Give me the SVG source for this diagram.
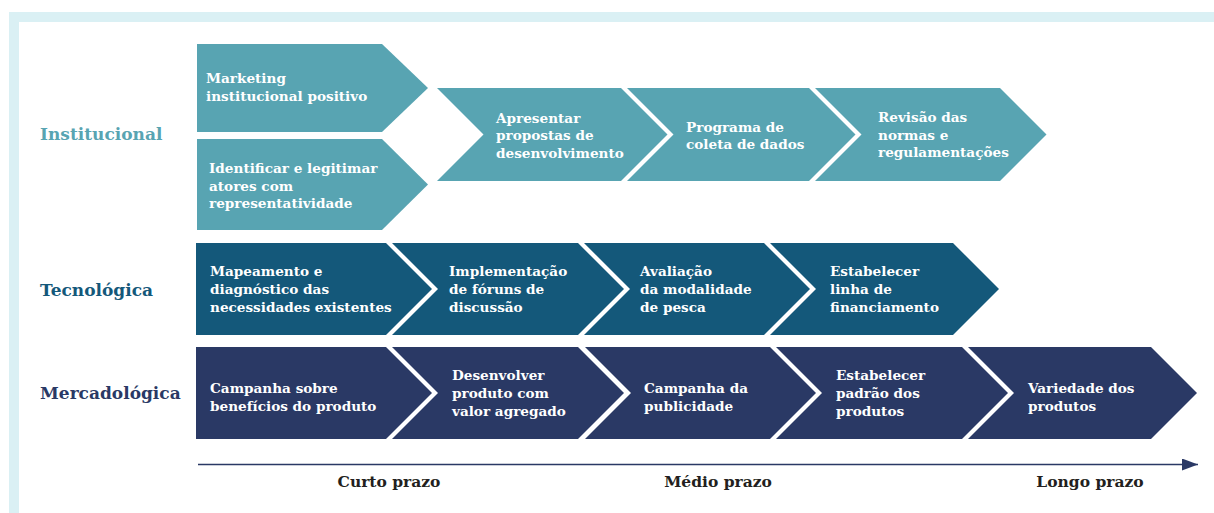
<svg xmlns="http://www.w3.org/2000/svg" width="1214" height="513" viewBox="0 0 1214 513">
  <style>
    .t { font-family: "DejaVu Serif", "Liberation Serif", serif; font-weight: bold; font-size: 13.6px; fill: #ffffff; }
    .row { font-family: "DejaVu Serif", "Liberation Serif", serif; font-weight: bold; font-size: 17px; }
    .axis { font-family: "DejaVu Serif", "Liberation Serif", serif; font-weight: bold; font-size: 15.5px; fill: #231f20; text-anchor: middle; }
    .inst { fill: #58a4b2; }
    .tec { fill: #14587a; }
    .mer { fill: #2a3965; }
  </style>
  <defs>
    <marker id="arrow" markerUnits="userSpaceOnUse" markerWidth="16" markerHeight="12" refX="16" refY="6" orient="auto">
      <path d="M0,0 L16,6 L0,12 Z" fill="#2a3965"/>
    </marker>
  </defs>

  <!-- frame -->
  <path d="M9,12 H1214 V513 H9 Z" fill="#daf0f4"/>
  <rect x="19" y="22" width="1195" height="491" fill="#ffffff"/>

  <!-- row labels -->
  <g id="label-institucional"><text class="row" x="40" y="140" fill="#58a4b2">Institucional</text></g>
  <g id="label-tecnologica"><text class="row" x="40" y="296" fill="#14587a">Tecnológica</text></g>
  <g id="label-mercadologica"><text class="row" x="40" y="399" fill="#2a3965">Mercadológica</text></g>

  <!-- Institucional -->
  <g id="inst-marketing">
    <path class="inst" d="M197,44 L382,44 L428,88 L382,132 L197,132 Z"/>
    <text class="t" x="206" y="83">Marketing<tspan x="206" y="100.5">institucional positivo</tspan></text>
  </g>
  <g id="inst-identificar">
    <path class="inst" d="M197,139 L382,139 L428,184.5 L382,230 L197,230 Z"/>
    <text class="t" x="209" y="173">Identificar e legitimar<tspan x="209" y="190.5">atores com</tspan><tspan x="209" y="208">representatividade</tspan></text>
  </g>
  <g id="inst-apresentar">
    <path class="inst" d="M437,88 L621,88 L667.5,134.5 L621,181 L437,181 L483.5,134.5 Z"/>
    <text class="t" x="496" y="122.7">Apresentar<tspan x="496" y="140.2">propostas de</tspan><tspan x="496" y="157.7">desenvolvimento</tspan></text>
  </g>
  <g id="inst-programa">
    <path class="inst" d="M627,88 L809,88 L855.5,134.5 L809,181 L627,181 L673.5,134.5 Z"/>
    <text class="t" x="686" y="131.7">Programa de<tspan x="686" y="149.2">coleta de dados</tspan></text>
  </g>
  <g id="inst-revisao">
    <path class="inst" d="M815,88 L1000,88 L1046.5,134.5 L1000,181 L815,181 L861.5,134.5 Z"/>
    <text class="t" x="878" y="122">Revisão das<tspan x="878" y="139.5">normas e</tspan><tspan x="878" y="157">regulamentações</tspan></text>
  </g>

  <!-- Tecnológica -->
  <g id="tec-mapeamento">
    <path class="tec" d="M196,243 L386,243 L432,289 L386,335 L196,335 Z"/>
    <text class="t" x="210" y="276">Mapeamento e<tspan x="210" y="294">diagnóstico das</tspan><tspan x="210" y="312">necessidades existentes</tspan></text>
  </g>
  <g id="tec-implementacao">
    <path class="tec" d="M392,243 L578,243 L624,289 L578,335 L392,335 L438,289 Z"/>
    <text class="t" x="449" y="276">Implementação<tspan x="449" y="294">de fóruns de</tspan><tspan x="449" y="312">discussão</tspan></text>
  </g>
  <g id="tec-avaliacao">
    <path class="tec" d="M584,243 L764,243 L810,289 L764,335 L584,335 L630,289 Z"/>
    <text class="t" x="640" y="276">Avaliação<tspan x="640" y="294">da modalidade</tspan><tspan x="640" y="312">de pesca</tspan></text>
  </g>
  <g id="tec-financiamento">
    <path class="tec" d="M770,243 L953,243 L999,289 L953,335 L770,335 L816,289 Z"/>
    <text class="t" x="830" y="276">Estabelecer<tspan x="830" y="294">linha de</tspan><tspan x="830" y="312">financiamento</tspan></text>
  </g>

  <!-- Mercadológica -->
  <g id="mer-campanha-beneficios">
    <path class="mer" d="M196,347 L386,347 L432,393 L386,439 L196,439 Z"/>
    <text class="t" x="210" y="392.7">Campanha sobre<tspan x="210" y="410.5">benefícios do produto</tspan></text>
  </g>
  <g id="mer-desenvolver">
    <path class="mer" d="M392,347 L578,347 L624,393 L578,439 L392,439 L438,393 Z"/>
    <text class="t" x="452" y="380">Desenvolver<tspan x="452" y="398">produto com</tspan><tspan x="452" y="416">valor agregado</tspan></text>
  </g>
  <g id="mer-campanha-publicidade">
    <path class="mer" d="M585,347 L770,347 L816,393 L770,439 L585,439 L631,393 Z"/>
    <text class="t" x="644" y="392.7">Campanha da<tspan x="644" y="410.5">publicidade</tspan></text>
  </g>
  <g id="mer-padrao">
    <path class="mer" d="M776,347 L962,347 L1008,393 L962,439 L776,439 L822,393 Z"/>
    <text class="t" x="836" y="380">Estabelecer<tspan x="836" y="398">padrão dos</tspan><tspan x="836" y="416">produtos</tspan></text>
  </g>
  <g id="mer-variedade">
    <path class="mer" d="M968,347 L1151,347 L1197,393 L1151,439 L968,439 L1014,393 Z"/>
    <text class="t" x="1028" y="392.7">Variedade dos<tspan x="1028" y="410.5">produtos</tspan></text>
  </g>

  <!-- connectors: time axis -->
  <g id="connectors">
    <line x1="198" y1="464.5" x2="1198" y2="464.5" stroke="#2a3965" stroke-width="1.5" marker-end="url(#arrow)"/>
  </g>

  <g id="axis-labels">
    <text class="axis" x="389" y="487">Curto prazo</text>
    <text class="axis" x="718" y="487">Médio prazo</text>
    <text class="axis" x="1090" y="487">Longo prazo</text>
  </g>
</svg>
